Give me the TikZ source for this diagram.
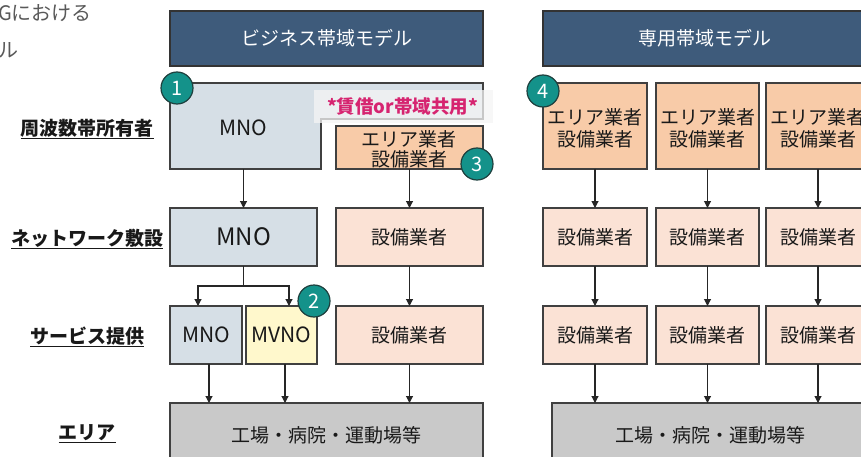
\documentclass[tikz,border=0pt]{standalone}
\usepackage{fontspec}
\setmainfont{Noto Sans CJK JP}
\usetikzlibrary{fit,arrows.meta}
\definecolor{hdr}{RGB}{62,91,123}
\definecolor{lblue}{RGB}{214,223,230}
\definecolor{orng}{RGB}{248,203,168}
\definecolor{lpeach}{RGB}{251,226,213}
\definecolor{lyel}{RGB}{255,248,204}
\definecolor{grayb}{RGB}{201,201,201}
\definecolor{teal1}{RGB}{20,146,138}
\definecolor{tealdk}{RGB}{30,64,62}
\definecolor{mag}{RGB}{214,36,112}
\definecolor{linec}{RGB}{64,64,64}
\definecolor{txt}{RGB}{25,25,25}
\definecolor{ttl}{RGB}{89,89,89}
\tikzset{
  bx/.style={draw=linec, line width=1.1pt, inner sep=0pt, outer sep=0pt},
  hdrbox/.style={bx, fill=hdr, draw=black!80},
  tx/.style={inner sep=0pt, text=txt, align=center, font=\fontsize{19}{22}\selectfont},
  hdrtx/.style={inner sep=0pt, text=white, font=\fontsize{19}{22}\selectfont},
  rowlbl/.style={inner sep=0pt, text=txt, font=\bfseries\fontsize{19}{22}\selectfont},
  badge/.style={circle, fill=teal1, draw=tealdk, line width=1.2pt, minimum size=32pt, inner sep=0pt,
    text=white, font=\fontsize{20}{22}\selectfont},
  arr/.style={draw=black!85, line width=1.1pt, -{Triangle[width=7pt,length=7pt]}},
  ln/.style={draw=black!85, line width=1.1pt},
}
\begin{document}
\begin{tikzpicture}[x=1pt,y=-1pt]
\useasboundingbox (0,0) rectangle (861,457);
\clip (0,0) rectangle (861,457);
\fill[white] (0,0) rectangle (861,457);

% partial title
\node[anchor=east, inner sep=0pt, text=ttl, font=\fontsize{20}{22}\selectfont] (t1) at (92,13) {Gにおける};
\node[anchor=east, inner sep=0pt, text=ttl, font=\fontsize{20}{22}\selectfont] (t2) at (19,50) {ル};

% headers
\node[hdrbox, fit={(170,11)(483,66)}] (h1) {};
\node[hdrtx] at (h1.center) {ビジネス帯域モデル};
\node[hdrbox, fit={(543,11)(867,66)}] (h2) {};
\node[hdrtx] at (h2.center) {専用帯域モデル};

% row labels
\node[rowlbl] (r1) at (87,129) {\underline{周波数帯所有者}};
\node[rowlbl] (r2) at (87,239) {\underline{ネットワーク敷設}};
\node[rowlbl] (r3) at (87,337) {\underline{サービス提供}};
\node[rowlbl] (r4) at (87,434) {\underline{エリア}};

% row 1 left: L-shaped MNO
\filldraw[fill=lblue, draw=linec, line width=1.1pt] (170,83) -- (483,83) -- (483,119) -- (321,119) -- (321,169) -- (170,169) -- cycle;
\node[inner sep=0pt, outer sep=0pt, fit={(170,83)(321,169)}] (mno1) {};
\node[tx, font=\fontsize{21}{22}\selectfont] at (243,128) {MNO};
\node[bx, fill=orng, fit={(336,126)(483,169)}] (ar1) {};
\node[tx, font=\fontsize{19}{20}\selectfont] at (409,149) {エリア業者\\設備業者};
\node[draw=none, fill=gray!8, fill opacity=0.75, inner sep=0pt, fit={(314,90)(493,123)}] (lease) {};
\node[inner sep=0pt, text=mag, font=\bfseries\fontsize{18.5}{20}\selectfont] at ([xshift=-1pt]lease.center) {*賃借or帯域共用*};

% row 2 left
\node[bx, fill=lblue, fit={(170,208)(317,266)}] (mno2) {};
\node[tx, font=\fontsize{24}{26}\selectfont] at (mno2.center) {MNO};
\node[bx, fill=lpeach, fit={(336,208)(483,266)}] (sb2) {};
\node[tx] at (sb2.center) {設備業者};

% row 3 left
\node[bx, fill=lblue, fit={(170,306)(242,364)}] (mno3) {};
\node[tx, font=\fontsize{21}{24}\selectfont] at (mno3.center) {MNO};
\node[bx, fill=lyel, fit={(246,306)(317,364)}] (mvno) {};
\node[tx, font=\fontsize{21}{24}\selectfont] at (mvno.center) {MVNO};
\node[bx, fill=lpeach, fit={(336,306)(483,364)}] (sb3) {};
\node[tx] at (sb3.center) {設備業者};

% area left
\node[bx, fill=grayb, fit={(170,403)(483,468)}] (area1) {};
\node[tx] at (326.5,435) {工場・病院・運動場等};

% right side
\foreach \i/\xa/\xb in {1/543/647, 2/656/759, 3/766/870}{
  \node[bx, fill=orng, fit={(\xa,83)(\xb,169)}] (c\i r1) {};
  \node[bx, fill=lpeach, fit={(\xa,208)(\xb,266)}] (c\i r2) {};
  \node[bx, fill=lpeach, fit={(\xa,306)(\xb,364)}] (c\i r3) {};
}
\foreach \i in {1,2,3}{
  \node[tx] at ([yshift=-2pt]c\i r1.center) {エリア業者\\設備業者};
  \node[tx] at (c\i r2.center) {設備業者};
  \node[tx] at (c\i r3.center) {設備業者};
}
\node[bx, fill=grayb, fit={(552,403)(868,468)}] (area2) {};
\node[tx] at (710,435) {工場・病院・運動場等};

% connectors left
\draw[arr] (mno2.north |- mno1.south) -- (mno2.north);
\draw[arr] (ar1.south) -- (sb2.north);
\draw[arr] (sb2.south) -- (sb3.north);
\coordinate (split) at (mno2.south |- 0,286);
\draw[ln] (mno2.south) -- (split);
\draw[arr] (split) -| ([xshift=-8pt]mno3.north);
\draw[arr] (split) -| ([xshift=7.5pt]mvno.north);
\draw[arr] ([xshift=3pt]mno3.south) -- ([xshift=3pt]mno3.south |- area1.north);
\draw[arr] ([xshift=3.5pt]mvno.south) -- ([xshift=3.5pt]mvno.south |- area1.north);
\draw[arr] (sb3.south) -- (sb3.south |- area1.north);

% connectors right
\foreach \i in {1,2,3}{
  \draw[arr] (c\i r1.south) -- (c\i r2.north);
  \draw[arr] (c\i r2.south) -- (c\i r3.north);
  \draw[arr] (c\i r3.south) -- (c\i r3.south |- area2.north);
}

% badges
\node[badge] (b1) at (177,88) {1};
\node[badge] (b2) at (314,301) {2};
\node[badge] (b3) at (477,164) {3};
\node[badge] (b4) at (543,91) {4};
\end{tikzpicture}
\end{document}
